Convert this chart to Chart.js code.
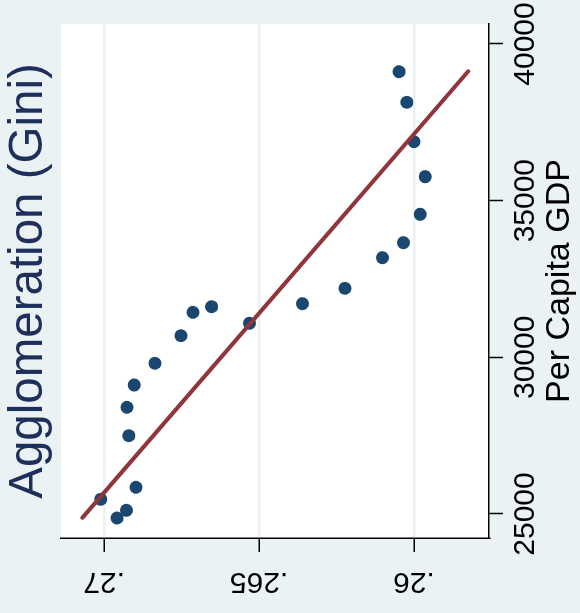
<!DOCTYPE html>
<html lang="en">
<head>
<meta charset="UTF-8">
<title>Agglomeration (Gini) vs Per Capita GDP</title>
<script src="https://cdn.jsdelivr.net/npm/chart.js"></script>
<style>
  html, body { margin: 0; padding: 0; background: #eaf2f3; }
  #wrap { position: relative; width: 580px; height: 613px; overflow: hidden; }
  /* graph is laid out 613x580 and then turned a quarter turn to the left */
  #graph { position: absolute; left: 0; top: 0; transform-origin: 0 0; transform: translate(0, 613px) rotate(-90deg); }
</style>
</head>
<body>
<div id="wrap"><canvas id="graph" width="613" height="580"></canvas></div>

<script>
// ---- data ----
const gdp  = [39116, 38139, 36882, 35765, 34565, 33659, 33180, 32203, 31712, 31616, 31437,
              31086, 30690, 29810, 29117, 28405, 27499, 25852, 25469, 25118, 24872];
const gini = [0.26048, 0.26023, 0.26000, 0.25964, 0.25980, 0.26034, 0.26102, 0.26223, 0.26360, 0.26653, 0.26713,
              0.26531, 0.26752, 0.26836, 0.26903, 0.26926, 0.26920, 0.26897, 0.27011, 0.26928, 0.26958];

// fitted line (end points)
const fitGdp  = [24880, 39130];
const fitGini = [0.27070, 0.25825];

const gdpTicks = [25000, 30000, 35000, 40000];
const giniTicks = [0.26, 0.265, 0.27];
const giniTickLabels = ['.26', '.265', '.27'];

const FONT = 'Liberation Sans, Arial, Helvetica, sans-serif';
const BG = '#eaf2f3';

const points = gdp.map((g, i) => ({x: g, y: gini[i]}));
const fitLine = fitGdp.map((g, i) => ({x: g, y: fitGini[i]}));

// light outer background + white plot region
const regionFill = {
  id: 'regionFill',
  beforeDraw(chart) {
    const {ctx, chartArea: a} = chart;
    ctx.save();
    ctx.fillStyle = BG;
    ctx.fillRect(0, 0, chart.width, chart.height);
    ctx.fillStyle = '#ffffff';
    ctx.fillRect(a.left, a.top, a.right - a.left, a.bottom - a.top);
    ctx.restore();
  }
};

new Chart(document.getElementById('graph'), {
  type: 'scatter',
  data: {
    datasets: [
      {
        label: 'Fitted values',
        data: fitLine,
        showLine: true,
        pointRadius: 0,
        borderColor: '#90353b',
        borderWidth: 4,
        borderCapStyle: 'round',
        order: 0
      },
      {
        label: 'Agglomeration (Gini)',
        data: points,
        pointRadius: 6.5,
        pointBackgroundColor: '#1a476f',
        pointBorderWidth: 0,
        order: 1
      }
    ]
  },
  options: {
    responsive: false,
    animation: false,
    layout: { padding: 0 },
    plugins: {
      legend: { display: false },
      tooltip: { enabled: false },
      title: {
        display: true,
        fullSize: false,   // centre over the plot region
        text: 'Agglomeration (Gini)',
        color: '#1e2f5c',
        font: { family: FONT, size: 47.5, weight: 'normal' },
        padding: { top: 0, bottom: 4 }
      }
    },
    scales: {
      x: {
        type: 'linear',
        position: 'bottom',
        min: 24234,
        max: 40638,
        afterBuildTicks: s => { s.ticks = gdpTicks.map(v => ({ value: v })); },
        afterFit: s => { s.height = 91; s.paddingLeft = 0; s.paddingRight = 24; },
        grid: { drawOnChartArea: false, drawTicks: true, tickLength: 14, tickColor: '#000', tickWidth: 1.5 },
        border: { display: true, color: '#000', width: 1.5 },
        ticks: {
          autoSkip: false, minRotation: 0, maxRotation: 0, padding: 5, color: '#000',
          font: { family: FONT, size: 30 },
          callback: v => String(v)
        },
        title: {
          display: true, text: 'Per Capita GDP', color: '#000',
          font: { family: FONT, size: 34 }, padding: { top: 0, bottom: 0 }
        }
      },
      y: {
        type: 'linear',
        position: 'left',
        min: 0.25758,
        max: 0.27139,
        afterBuildTicks: s => { s.ticks = giniTicks.map(v => ({ value: v })); },
        afterFit: s => { s.width = 75; s.paddingTop = 0; s.paddingBottom = 0; },
        grid: { color: BG, lineWidth: 2.5, drawTicks: true, tickLength: 14, tickColor: '#000', tickWidth: 1.5 },
        border: { display: true, color: '#000', width: 1.5 },
        ticks: {
          autoSkip: false, minRotation: 90, maxRotation: 90, crossAlign: 'center', padding: 0, color: '#000',
          font: { family: FONT, size: 30 },
          callback: (v, i) => giniTickLabels[i]
        }
      }
    }
  },
  plugins: [regionFill]
});
</script>
</body>
</html>
